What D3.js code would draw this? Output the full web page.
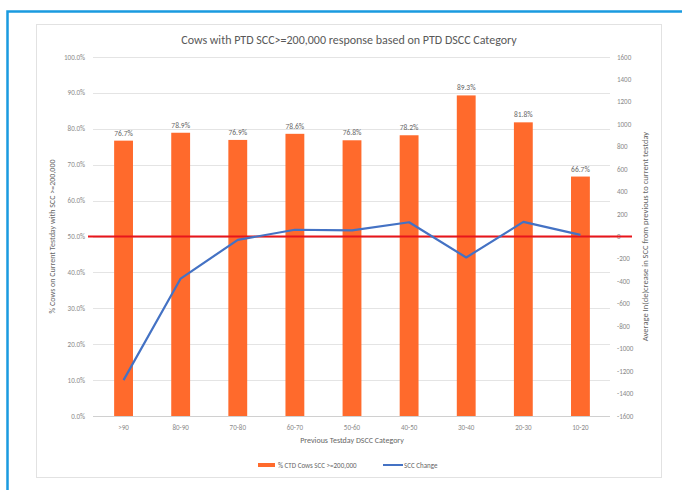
<!DOCTYPE html>
<html>
<head>
<meta charset="utf-8">
<script src="https://cdn.jsdelivr.net/npm/d3@7/dist/d3.min.js"></script>
<style>
  body { margin: 0; background: #fff; }
  svg text { font-family: Calibri, Carlito, Lato, "Liberation Sans", Arial, sans-serif; }
</style>
</head>
<body>
<svg id="chart" width="682" height="490"></svg>
<script>
// data
var categories = [">90", "80-90", "70-80", "60-70", "50-60", "40-50", "30-40", "20-30", "10-20"];
var pctCows = [76.7, 78.9, 76.9, 78.6, 76.8, 78.2, 89.3, 81.8, 66.7];
var sccChange = [-1280, -375, -30, 60, 55, 127, -187, 130, 15];
var leftTicks = [0, 10, 20, 30, 40, 50, 60, 70, 80, 90, 100];
var rightTicks = [-1600, -1400, -1200, -1000, -800, -600, -400, -200, 0, 200, 400, 600, 800, 1000, 1200, 1400, 1600];

var svg = d3.select("#chart");

// outer blue frame + inner chart box
svg.append("rect").attr("x", 7.5).attr("y", 11.5).attr("width", 700).attr("height", 500)
    .attr("fill", "none").attr("stroke", "#1a9be0").attr("stroke-width", 2.5);
svg.append("rect").attr("x", 36.5).attr("y", 24.5).attr("width", 625).attr("height", 453)
    .attr("fill", "#fff").attr("stroke", "#e2e2e2").attr("stroke-width", 1);

var plotLeft = 95, plotRight = 609, plotTop = 57, plotBottom = 416;

var x = d3.scaleBand().domain(categories).range([plotLeft, plotRight]).paddingInner(0.67).paddingOuter(0.335);
var yL = d3.scaleLinear().domain([0, 100]).range([plotBottom, plotTop]);
var yR = d3.scaleLinear().domain([-1600, 1600]).range([plotBottom, plotTop]);

svg.append("text").attr("x", 349).attr("y", 44).attr("text-anchor", "middle")
    .style("font-size", "12px").style("fill", "#595959")
    .text("Cows with PTD SCC>=200,000 response based on PTD DSCC Category");

// gridlines
svg.append("g").selectAll("line").data(leftTicks).enter().append("line")
    .attr("x1", 93).attr("x2", 610)
    .attr("y1", function(d) { return Math.round(yL(d)) + 0.5; })
    .attr("y2", function(d) { return Math.round(yL(d)) + 0.5; })
    .attr("stroke", function(d) { return d == 0 ? "#d0d0d0" : "#e4e4e4"; }).attr("stroke-width", 1);

// left axis labels
svg.append("g").selectAll("text").data(leftTicks).enter().append("text")
    .attr("x", 85).attr("y", function(d) { return yL(d) + 2.5; })
    .attr("text-anchor", "end").style("font-size", "7px").style("fill", "#8a8a8a")
    .text(function(d) { return d.toFixed(1) + "%"; });

// right axis labels
svg.append("g").selectAll("text").data(rightTicks).enter().append("text")
    .attr("x", 617).attr("y", function(d) { return yR(d) + 2.5; })
    .attr("text-anchor", "start").style("font-size", "7px").style("fill", "#8a8a8a")
    .text(function(d) { return d; });

// bars
svg.append("g").selectAll("rect").data(pctCows).enter().append("rect")
    .attr("x", function(d, i) { return x(categories[i]); })
    .attr("width", x.bandwidth())
    .attr("y", function(d) { return yL(d); })
    .attr("height", function(d) { return plotBottom - yL(d); })
    .attr("fill", "#ff6a2c");

svg.append("g").selectAll("text").data(pctCows).enter().append("text")
    .attr("x", function(d, i) { return x(categories[i]) + x.bandwidth() / 2; })
    .attr("y", function(d) { return yL(d) - 5; })
    .attr("text-anchor", "middle").style("font-size", "7.5px").style("fill", "#666")
    .text(function(d) { return d.toFixed(1) + "%"; });

// red 50% reference line
svg.append("line").attr("x1", 88).attr("x2", 632)
    .attr("y1", yL(50)).attr("y2", yL(50))
    .attr("stroke", "#e8151b").attr("stroke-width", 2);

// SCC change line
var line = d3.line()
    .x(function(d, i) { return x(categories[i]) + x.bandwidth() / 2; })
    .y(function(d) { return yR(d); });
svg.append("path").datum(sccChange).attr("d", line)
    .attr("fill", "none").attr("stroke", "#4472c4").attr("stroke-width", 2.2)
    .attr("stroke-linejoin", "round");

// x tick labels
svg.append("g").selectAll("text").data(categories).enter().append("text")
    .attr("x", function(d) { return x(d) + x.bandwidth() / 2; })
    .attr("y", 430).attr("text-anchor", "middle")
    .style("font-size", "7px").style("fill", "#8a8a8a")
    .text(function(d) { return d; });

svg.append("text").attr("x", 352).attr("y", 443).attr("text-anchor", "middle")
    .style("font-size", "8px").style("fill", "#666").text("Previous Testday DSCC Category");

// axis titles
svg.append("text").attr("transform", "translate(55," + yL(50) + ") rotate(-90)")
    .attr("text-anchor", "middle").style("font-size", "8px").style("fill", "#666")
    .text("% Cows on Current Testday with SCC >=200,000");
svg.append("text").attr("transform", "translate(648," + yR(0) + ") rotate(-90)")
    .attr("text-anchor", "middle").style("font-size", "8.5px").style("fill", "#666")
    .text("Average In(de)crease in SCC from previous to current testday");

// legend
var lg = svg.append("g");
lg.append("rect").attr("x", 258).attr("y", 463).attr("width", 17).attr("height", 4).attr("fill", "#ff6a2c");
lg.append("text").attr("x", 278).attr("y", 467.5).style("font-size", "7px").style("fill", "#666")
    .text("% CTD Cows SCC >=200,000");
lg.append("line").attr("x1", 383).attr("x2", 403).attr("y1", 465).attr("y2", 465)
    .attr("stroke", "#4472c4").attr("stroke-width", 2);
lg.append("text").attr("x", 404).attr("y", 467.5).style("font-size", "7px").style("fill", "#666")
    .text("SCC Change");
</script>
</body>
</html>
